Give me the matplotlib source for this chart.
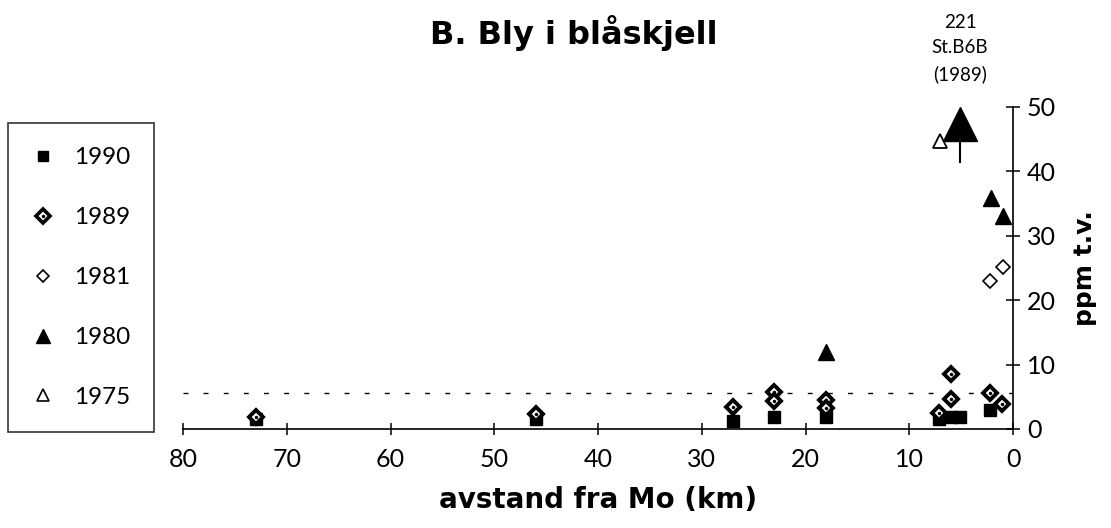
import matplotlib.pyplot as plt
from matplotlib.lines import Line2D

plt.rcParams['font.family'] = ['Lato', 'DejaVu Sans']

# ---- data (distance from Mo in km, lead ppm dry weight) ----
x_1990 = [73, 46, 27, 23, 18, 7.1, 6.0, 5.1, 2.2]
y_1990 = [1.6, 1.5, 1.3, 1.9, 1.8, 1.5, 1.9, 1.9, 2.9]

x_1989 = [73, 46, 27, 23, 23, 18, 18, 7.1, 6.0, 6.0, 2.2, 1.1]
y_1989 = [1.9, 2.3, 3.4, 5.8, 4.3, 4.5, 3.2, 2.5, 8.5, 4.7, 5.6, 3.9]

x_1981 = [2.2, 1.0]
y_1981 = [23.0, 25.1]

x_1980 = [18, 2.1, 1.0]
y_1980 = [12.0, 35.9, 33.0]

x_1975 = [7.0]
y_1975 = [44.7]

# off-scale value at St.B6B (1989): 221 ppm, drawn as an arrow at the top
b6b_x = 5.1
b6b_y = 47.3
b6b_label = "221\nSt.B6B\n(1989)"

ref_level = 5.6  # dashed reference line

xticks = [80, 70, 60, 50, 40, 30, 20, 10, 0]
yticks = [0, 10, 20, 30, 40, 50]

bold_font = ['DejaVu Sans']

fig = plt.figure(figsize=(11.11, 5.28), dpi=100)
ax = fig.add_axes([183 / 1111, 99 / 528, 830 / 1111, 322 / 528])

ax.axhline(ref_level, color='black', lw=1, dashes=(3.5, 11), zorder=1)

ax.plot(x_1990, y_1990, 's', ms=8, color='black', clip_on=False, zorder=3)
ax.plot(x_1989, y_1989, 'D', ms=7.5, mfc='white', mec='black', mew=2.8,
        clip_on=False, zorder=4)
ax.plot(x_1989, y_1989, '.', ms=3, color='black', clip_on=False, zorder=5)
ax.plot(x_1981, y_1981, 'D', ms=7, mfc='white', mec='black', mew=1.2,
        clip_on=False, zorder=4)
ax.plot(x_1980, y_1980, '^', ms=11, color='black', clip_on=False, zorder=3)
ax.plot(x_1975, y_1975, '^', ms=10, mfc='white', mec='black', mew=1.3,
        clip_on=False, zorder=3)

# big arrow for the off-scale value
ax.plot([b6b_x, b6b_x], [b6b_y - 1.5, b6b_y - 5.8], color='black', lw=1.5,
        clip_on=False, zorder=3)
ax.plot([b6b_x], [b6b_y], '^', ms=25, color='black', clip_on=False, zorder=4)
ax.text(b6b_x, 1.075, b6b_label, transform=ax.get_xaxis_transform(),
        ha='center', va='bottom', fontsize=13.5, linespacing=1.6)

ax.set_xlim(80, 0)
ax.set_ylim(0, 50)
ax.set_xticks(xticks)
ax.set_yticks(yticks)

for side in ['top', 'left']:
    ax.spines[side].set_visible(False)
ax.spines['bottom'].set_linewidth(1.2)
ax.spines['right'].set_linewidth(1.2)

ax.yaxis.tick_right()
ax.yaxis.set_label_position('right')
ax.tick_params(axis='x', direction='inout', length=9, width=1.1,
               labelsize=18, pad=9)
ax.tick_params(axis='y', direction='inout', length=10, width=1.1,
               labelsize=18, pad=5)

ax.set_xlabel("avstand fra Mo (km)", fontsize=20, fontweight='bold',
              family=bold_font, labelpad=11)
ax.set_ylabel("ppm t.v.", fontsize=18, fontweight='bold', family=bold_font,
              labelpad=12)
fig.text(574 / 1111, 1 - 33 / 528, "B. Bly i blåskjell", ha='center',
         va='center', fontsize=23, fontweight='bold', family=bold_font)

handles = [
    Line2D([], [], ls='none', marker='s', ms=7, color='black'),
    (Line2D([], [], ls='none', marker='D', ms=7, mfc='white', mec='black', mew=2.6),
     Line2D([], [], ls='none', marker='.', ms=3, color='black')),
    Line2D([], [], ls='none', marker='D', ms=6.5, mfc='white', mec='black', mew=1.2),
    Line2D([], [], ls='none', marker='^', ms=10, color='black'),
    Line2D([], [], ls='none', marker='^', ms=9, mfc='white', mec='black', mew=1.2),
]
labels = ['1990', '1989', '1981', '1980', '1975']
leg = fig.legend(handles, labels, loc='upper left',
                 bbox_to_anchor=(8 / 1111, 1 - 123 / 528),
                 fontsize=17.5, frameon=True, fancybox=False, edgecolor='black',
                 labelspacing=1.6, borderpad=1.0, handlelength=0.9,
                 handletextpad=0.8, borderaxespad=0)
leg.get_frame().set_linewidth(1.2)

fig.savefig("out.png", dpi=100)
